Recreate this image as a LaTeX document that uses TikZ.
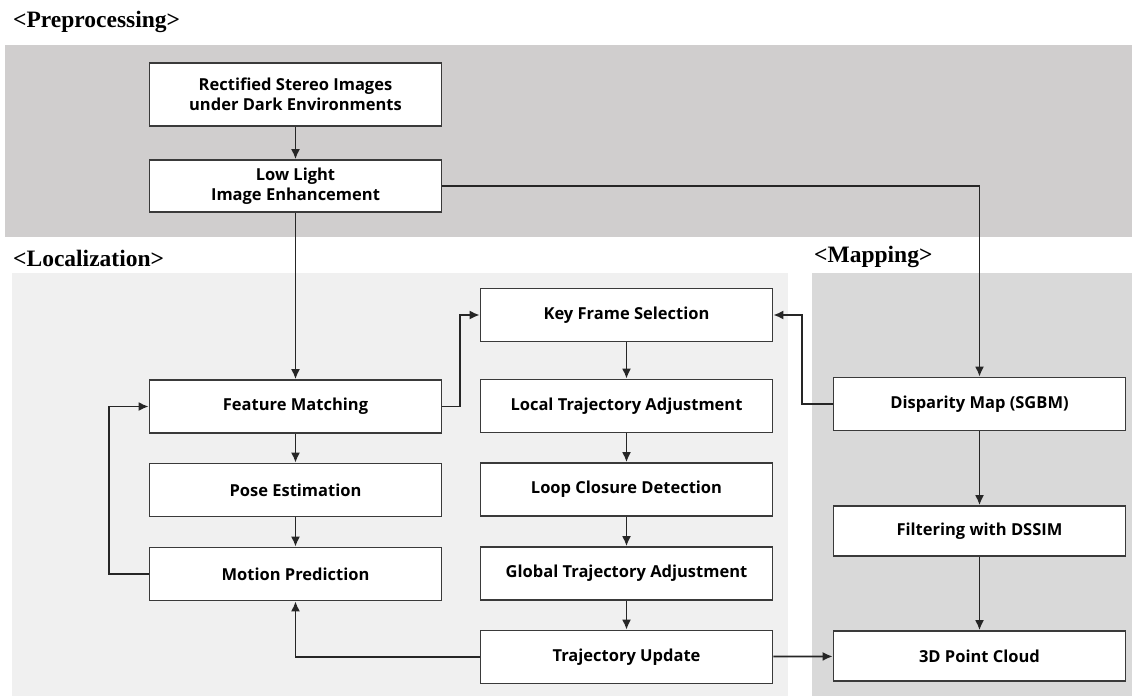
\documentclass[tikz,border=0pt]{standalone}
\usepackage{fontspec}
\setmainfont{Liberation Serif}
\setsansfont{Open Sans}
\usepackage{tikz}
\usetikzlibrary{arrows.meta}
\usepackage{xcolor}
\definecolor{pregray}{HTML}{D0CECE}
\definecolor{locgray}{HTML}{F0F0F0}
\definecolor{mapgray}{HTML}{D9D9D9}
\definecolor{edgegray}{HTML}{3A3A3A}

\begin{document}
\begin{tikzpicture}[x=1pt, y=-1pt, font=\sffamily\bfseries\fontsize{16.5}{20}\selectfont,
  stage/.style={draw=edgegray, line width=1.7pt, fill=white, align=center, minimum width=292pt, minimum height=53pt, inner sep=0pt},
  region/.style={font=\rmfamily\bfseries\fontsize{23.5}{27}\selectfont, anchor=west, inner sep=0pt},
  flow/.style={-{Latex[length=10pt, width=9pt]}, line width=1.8pt, color=black!85},
]
\useasboundingbox (0,0) rectangle (1132,696);
% panels
\fill[pregray] (5,45) rectangle (1132,237);
\fill[locgray] (12,273) rectangle (788,696);
\fill[mapgray] (812,273) rectangle (1132,696);
\node[region] (prelabel) at (13,22) {<Preprocessing>};
\node[region] (loclabel) at (13,258) {<Localization>};
\node[region] (maplabel) at (814,257) {<Mapping>};

\node[stage, minimum height=63pt] (rectified) at (295.5,94.5) {Rectified Stereo Images\\under Dark Environments};
\node[stage, minimum height=52pt] (enhance) at (295.5,186) {Low Light\\Image Enhancement};

\node[stage] (keyframe) at (626.5,315) {Key Frame Selection};
\node[stage] (matching) at (295.5,406.5) {Feature Matching};
\node[stage] (localadj) at (626.5,406) {Local Trajectory Adjustment};
\node[stage] (pose) at (295.5,490) {Pose Estimation};
\node[stage] (loopclose) at (626.5,489.5) {Loop Closure Detection};
\node[stage] (motion) at (295.5,574) {Motion Prediction};
\node[stage] (globaladj) at (626.5,573.5) {Global Trajectory Adjustment};
\node[stage] (update) at (626.5,657) {Trajectory Update};

\node[stage] (disparity) at (979.5,404) {Disparity Map (SGBM)};
\node[stage, minimum height=50pt] (filtering) at (979.5,531) {Filtering with DSSIM};
\node[stage, minimum height=50pt] (cloud) at (979.5,656) {3D Point Cloud};

\draw[flow] (rectified) -- (enhance);
\draw[flow] (enhance) -- (matching);
\draw[flow] (enhance.east) -| (disparity.north);
\draw[flow] (matching.east) -- (460,406.5) |- (keyframe.west);
\draw[flow] (disparity.west) -- (802,404) |- (keyframe.east);
\draw[flow] (matching) -- (pose);
\draw[flow] (pose) -- (motion);
\draw[flow] (motion.west) -- (109,574) |- (matching.west);
\draw[flow] (keyframe) -- (localadj);
\draw[flow] (localadj) -- (loopclose);
\draw[flow] (loopclose) -- (globaladj);
\draw[flow] (globaladj) -- (update);
\draw[flow] (update.west) -| (motion.south);
\draw[flow] (update) -- (cloud);
\draw[flow] (disparity) -- (filtering);
\draw[flow] (filtering) -- (cloud);
\end{tikzpicture}
\end{document}
